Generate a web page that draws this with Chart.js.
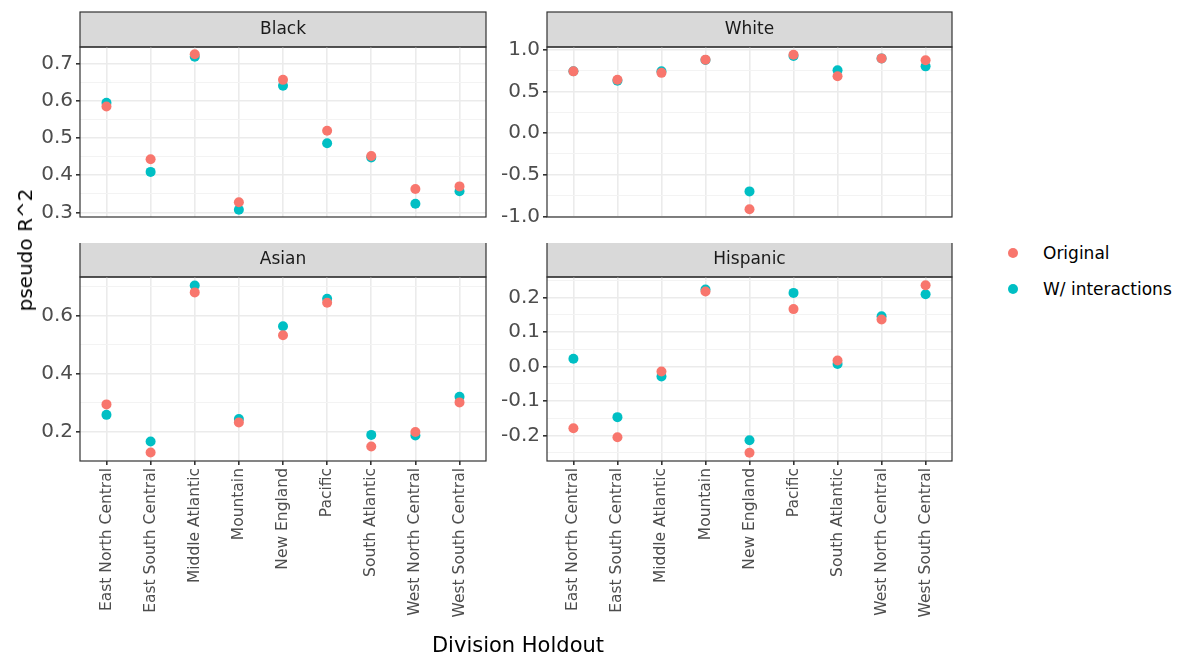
<!DOCTYPE html>
<html>
<head>
<meta charset="utf-8">
<script src="https://cdn.jsdelivr.net/npm/chart.js@4.4.1/dist/chart.umd.min.js"></script>
<style>
  body { margin:0; background:#fff; width:1181px; height:660px; position:relative; overflow:hidden;
         font-family:"DejaVu Sans", "Liberation Sans", Arial, sans-serif; }
  canvas { position:absolute; }
  .txt { position:absolute; white-space:nowrap; color:#000; }
  .dot { position:absolute; width:10px; height:10px; border-radius:50%; }
</style>
</head>
<body>
<canvas id="cBlack" width="491" height="232" style="left:0px;top:0px"></canvas>
<canvas id="cWhite" width="460" height="232" style="left:497px;top:0px"></canvas>
<canvas id="cAsian" width="491" height="398" style="left:0px;top:243px"></canvas>
<canvas id="cHispanic" width="460" height="398" style="left:497px;top:243px"></canvas>

<div class="txt" style="left:0;width:1036px;text-align:center;top:633px;font-size:21px">Division Holdout</div>
<div class="txt" style="left:25px;top:250px;font-size:20px;transform:translate(-50%,-50%) rotate(-90deg)">pseudo R^2</div>

<div class="dot" style="left:1008px;top:248px;background:#F8766D"></div>
<div class="txt" style="left:1043px;top:243px;font-size:17px">Original</div>
<div class="dot" style="left:1008px;top:284px;background:#00BFC4"></div>
<div class="txt" style="left:1043px;top:279px;font-size:17px">W/ interactions</div>

<script>
const divisions = ["East North Central","East South Central","Middle Atlantic","Mountain",
  "New England","Pacific","South Atlantic","West North Central","West South Central"]

// pseudo R^2 per division holdout
const blackOriginal = [0.585,0.443,0.726,0.327,0.657,0.520,0.452,0.363,0.370]
const blackInteract = [0.595,0.409,0.719,0.307,0.641,0.486,0.448,0.323,0.357]
const whiteOriginal = [0.744,0.644,0.726,0.885,-0.915,0.944,0.685,0.900,0.878]
const whiteInteract = [0.745,0.630,0.744,0.880,-0.700,0.930,0.756,0.900,0.804]
const asianOriginal = [0.295,0.129,0.681,0.233,0.533,0.645,0.150,0.200,0.302]
const asianInteract = [0.259,0.167,0.705,0.245,0.564,0.659,0.190,0.188,0.321]
const hispOriginal  = [-0.179,-0.205,-0.015,0.217,-0.250,0.166,0.017,0.136,0.235]
const hispInteract  = [0.022,-0.147,-0.029,0.223,-0.214,0.213,0.007,0.145,0.209]

// y tick values (major = labelled, minor = grid only)
const blackTicks = [0.3,0.4,0.5,0.6,0.7]
const blackMinor = [0.35,0.45,0.55,0.65]
const whiteTicks = [-1.0,-0.5,0.0,0.5,1.0]
const whiteMinor = [-0.75,-0.25,0.25,0.75]
const asianTicks = [0.2,0.4,0.6]
const asianMinor = [0.3,0.5,0.7]
const hispTicks  = [-0.2,-0.1,0.0,0.1,0.2]
const hispMinor  = [-0.25,-0.15,-0.05,0.05,0.15,0.25]

const RED="#F8766D", TEAL="#00BFC4"
const FONT = '"DejaVu Sans", "Liberation Sans", Arial, sans-serif'
Chart.defaults.font.family = FONT

const isIn = (arr,v) => arr.some(a => Math.abs(a-v) < 1e-9)

const facetDeco = {
  id: "facetDeco",
  beforeDraw(chart, args, opts){
    const {ctx, chartArea:a} = chart
    ctx.save()
    ctx.fillStyle = "#D9D9D9"
    ctx.fillRect(a.left, a.top-35, a.right-a.left, 35)
    ctx.strokeStyle = "#333333"
    ctx.lineWidth = 1.2
    ctx.strokeRect(a.left, a.top-35, a.right-a.left, 35)
    ctx.fillStyle = "#1A1A1A"
    ctx.font = "17px " + FONT
    ctx.textAlign = "center"
    ctx.textBaseline = "middle"
    ctx.fillText(opts.label, (a.left+a.right)/2, a.top-17)
    ctx.restore()
  },
  afterDraw(chart){
    const {ctx, chartArea:a} = chart
    ctx.save()
    ctx.strokeStyle = "#333333"
    ctx.lineWidth = 1.2
    ctx.strokeRect(a.left, a.top, a.right-a.left, a.bottom-a.top)
    ctx.restore()
  }
}

function toPoints(vals){
  return vals.map((v,i) => ({x:i, y:v}))
}

function makePanel(id, label, orig, inter, range, majors, minors, yW, bottom){
  const xAxis = {
    type: "linear", min: -0.6, max: 8.6,
    afterBuildTicks: s => { s.ticks = divisions.map((d,i) => ({value:i})) },
    grid: {color:"#EBEBEB", lineWidth:1.6, drawTicks: bottom, tickLength:4, tickColor:"#333333"},
    border: {display:false},
    ticks: {display: bottom, autoSkip:false, minRotation:90, maxRotation:90, padding:3,
            color:"#4D4D4D", font:{size:15.5}, callback: v => divisions[v]},
    afterFit: s => { s.height = bottom ? 180 : 0 }
  }
  const yAxis = {
    min: range[0], max: range[1],
    afterBuildTicks: s => { s.ticks = majors.concat(minors).sort((a,b)=>a-b).map(v => ({value:v})) },
    grid: {
      color: c => isIn(majors, c.tick.value) ? "#EBEBEB" : "#F3F3F3",
      lineWidth: c => isIn(majors, c.tick.value) ? 1.6 : 1,
      tickColor: c => isIn(majors, c.tick.value) ? "#333333" : "rgba(0,0,0,0)",
      tickLength: 4
    },
    border: {display:false},
    ticks: {autoSkip:false, padding:3, color:"#4D4D4D", font:{size:20},
            callback: v => isIn(majors, v) ? v.toFixed(1) : ""},
    afterFit: s => { s.width = yW }
  }
  new Chart(document.getElementById(id), {
    type: "scatter",
    data: {datasets: [
      {label:"Original", data: toPoints(orig), backgroundColor: RED},
      {label:"W/ interactions", data: toPoints(inter), backgroundColor: TEAL}
    ]},
    options: {
      responsive:false, animation:false, events:[],
      layout: {padding: {top: bottom ? 34 : 47, right:2, bottom: bottom ? 0 : 2, left:0}},
      elements: {point: {radius:5, borderWidth:0, hoverRadius:5}},
      datasets: {scatter: {clip:false}},
      scales: {x: xAxis, y: yAxis},
      plugins: {legend:{display:false}, tooltip:{enabled:false}, facetDeco:{label}}
    },
    plugins: [facetDeco]
  })
}

makePanel("cBlack", "Black", blackOriginal, blackInteract, [0.2875,0.7455], blackTicks, blackMinor, 80, false)
makePanel("cWhite", "White", whiteOriginal, whiteInteract, [-1.008,1.037], whiteTicks, whiteMinor, 50, false)
makePanel("cAsian", "Asian", asianOriginal, asianInteract, [0.100,0.734], asianTicks, asianMinor, 80, true)
makePanel("cHispanic", "Hispanic", hispOriginal, hispInteract, [-0.274,0.259], hispTicks, hispMinor, 50, true)
</script>
</body>
</html>
